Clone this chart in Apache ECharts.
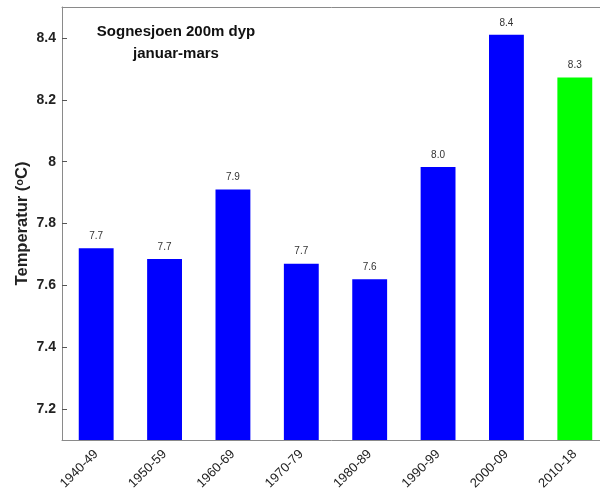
<!DOCTYPE html>
<html><head><meta charset="utf-8">
<script src="https://cdn.jsdelivr.net/npm/echarts@6/dist/echarts.min.js"></script>
<style>html,body{margin:0;padding:0;background:#fff;overflow:hidden}#c{width:600px;height:495px}</style>
</head><body><div id="c"></div>
<script>
var categories = ['1940-49','1950-59','1960-69','1970-79','1980-89','1990-99','2000-09','2010-18'];
var values = [7.72, 7.685, 7.91, 7.67, 7.62, 7.983, 8.41, 8.272];
var barColors = ['#0000ff','#0000ff','#0000ff','#0000ff','#0000ff','#0000ff','#0000ff','#00ff00'];
var titleLines = ['Sognesjoen 200m dyp', 'januar-mars'];

var font = '"Liberation Sans", Arial, Helvetica, sans-serif';
var chart = echarts.init(document.getElementById('c'));
chart.setOption({
  animation: false,
  title: {
    text: titleLines.join('\n'),
    left: 171, top: 16, textAlign: 'center',
    textStyle: { fontFamily: font, fontSize: 15, fontWeight: 'bold', color: '#111', lineHeight: 22 }
  },
  grid: { left: 62, top: 7, right: -9, bottom: 55, containLabel: false, outerBoundsMode: 'none' },
  xAxis: [{
    type: 'category', data: categories, position: 'bottom',
    axisLine: { lineStyle: { color: '#8a8a8a', width: 1 } },
    axisTick: { inside: true, alignWithLabel: true, length: 5, lineStyle: { color: '#555' } },
    axisLabel: { rotate: 45, fontFamily: font, fontSize: 13, color: '#222', margin: 12 }
  }, {
    type: 'category', data: categories, position: 'top',
    axisLine: { lineStyle: { color: '#8a8a8a', width: 1 } },
    axisTick: { inside: true, alignWithLabel: true, length: 5, lineStyle: { color: '#555' } },
    axisLabel: { show: false }
  }],
  yAxis: {
    type: 'value', min: 7.1, max: 8.5, splitNumber: 7,
    name: 'Temperatur ({sup|o}C)', nameLocation: 'middle', nameGap: 31, nameMoveOverlap: false,
    nameTextStyle: { fontFamily: font, fontSize: 16.5, fontWeight: 'bold', color: '#222',
      rich: { sup: { fontFamily: font, fontSize: 11, fontWeight: 'bold', color: '#222', verticalAlign: 'top', padding: [0,0,6,0] } } },
    axisLine: { show: true, lineStyle: { color: '#8a8a8a', width: 1 } },
    axisTick: { show: true, inside: true, length: 5, lineStyle: { color: '#555' } },
    splitLine: { show: false },
    axisLabel: { fontFamily: font, fontSize: 14, fontWeight: 'bold', color: '#222', margin: 6,
      showMinLabel: false, showMaxLabel: false,
      formatter: function (v) { return String(Math.round(v * 10) / 10); } }
  },
  series: [{
    type: 'bar', xAxisIndex: 0, barWidth: '51%',
    data: values.map(function (v, i) { return { value: v, itemStyle: { color: barColors[i] } }; }),
    label: { show: true, position: 'top', distance: 7, fontFamily: font, fontSize: 10, color: '#333',
      formatter: function (p) { return p.value.toFixed(1); } }
  }]
});
</script></body></html>
